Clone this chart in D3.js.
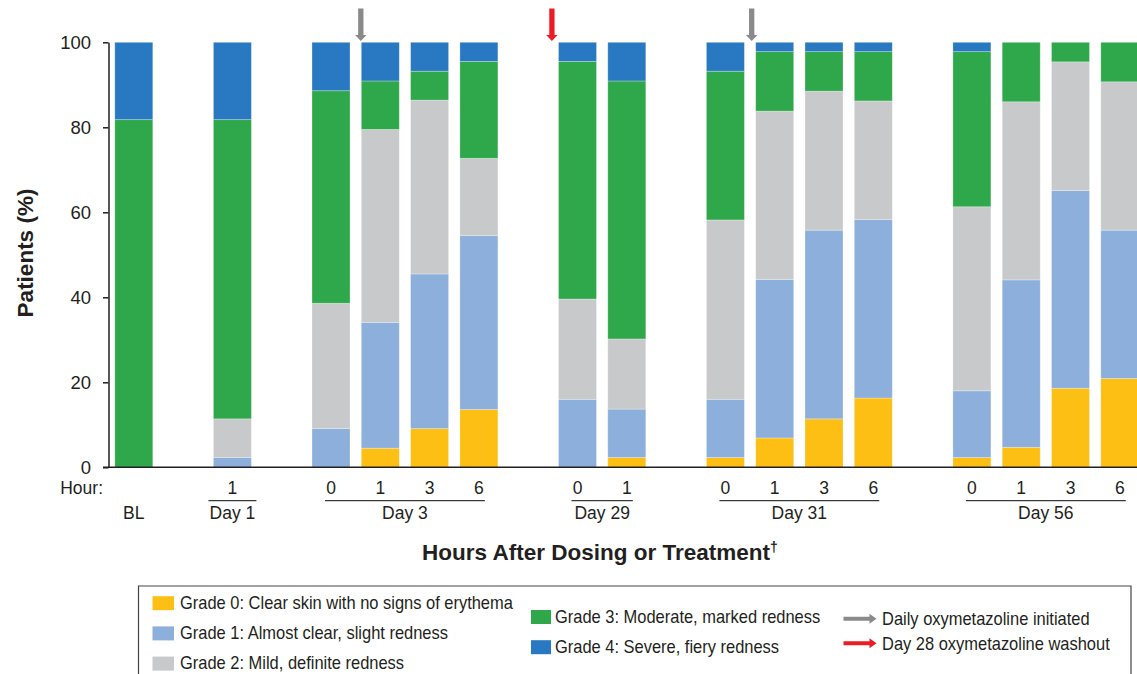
<!DOCTYPE html>
<html>
<head>
<meta charset="utf-8">
<script src="https://cdn.jsdelivr.net/npm/d3@7"></script>
<style>
  html, body { margin: 0; padding: 0; background: #fff; }
  svg { display: block; font-family: "Liberation Sans", Arial, sans-serif; }
</style>
</head>
<body>
<svg id="chart" width="1137" height="674"></svg>
<script>
// Visit days and the hours after dosing recorded on each day
const days = ["BL", "Day 1", "Day 3", "Day 29", "Day 31", "Day 56"];
const hoursByDay = [[""], ["1"], ["0", "1", "3", "6"], ["0", "1"], ["0", "1", "3", "6"], ["0", "1", "3", "6"]];

// Share of patients (%) at each grade, one value per time point (in visit order)
const grade0 = [0, 0, 0, 4.5, 9.1, 13.6, 0, 2.3, 2.3, 6.9, 11.4, 16.3, 2.3, 4.7, 18.6, 20.9];
const grade1 = [0, 2.3, 9.1, 29.6, 36.4, 40.9, 16.0, 11.4, 13.7, 37.3, 44.4, 42.0, 15.7, 39.4, 46.5, 34.9];
const grade2 = [0, 9.1, 29.5, 45.4, 40.9, 18.2, 23.6, 16.5, 42.2, 39.6, 32.7, 27.9, 43.3, 41.9, 30.3, 34.9];
const grade3 = [81.8, 70.4, 50.0, 11.4, 6.8, 22.8, 55.9, 60.7, 35.0, 14.0, 9.3, 11.6, 36.5, 14.0, 4.6, 9.3];
const grade4 = [18.2, 18.2, 11.4, 9.1, 6.8, 4.5, 4.5, 9.1, 6.8, 2.2, 2.2, 2.2, 2.2, 0, 0, 0];

const yTicks = [0, 20, 40, 60, 80, 100];

const gradeLabels = [
  "Grade 0: Clear skin with no signs of erythema",
  "Grade 1: Almost clear, slight redness",
  "Grade 2: Mild, definite redness",
  "Grade 3: Moderate, marked redness",
  "Grade 4: Severe, fiery redness"
];
const gradeColors = ["#FDBF14", "#8DAFDB", "#C8C9CA", "#2EA84A", "#2879C1"];

// Treatment markers drawn above the bars
const markers = [
  { day: 2, hour: 1, label: "Daily oxymetazoline initiated", color: "#8A8A8A", shift: -0.5 },
  { day: 3, hour: 0, label: "Day 28 oxymetazoline washout", color: "#EC1C24", shift: -6.6 },
  { day: 4, hour: 1, label: "Daily oxymetazoline initiated", color: "#8A8A8A", shift: -4 }
];

// ---- build time points and the slot sequence (one empty slot between visit days)
const points = [];
const slots = [];
days.forEach((d, di) => {
  if (di > 0) slots.push("gap" + di);
  hoursByDay[di].forEach((h, hi) => {
    const key = di + "-" + hi;
    points.push({ key, day: di, hourIndex: hi, hour: h });
    slots.push(key);
  });
});
const series = [grade0, grade1, grade2, grade3, grade4];
points.forEach((p, i) => { p.values = series.map(s => s[i]); });

const svg = d3.select("#chart");
const ink = "#231F20";

const x = d3.scaleBand()
  .domain(slots)
  .range([109.15, 109.15 + slots.length * 49.3])
  .paddingInner(11.3 / 49.3)
  .paddingOuter(11.3 / 49.3 / 2);

const y = d3.scaleLinear().domain([0, 100]).range([467.3, 42.3]);

// ---- stacked bars
const stack = d3.stack()
  .keys(d3.range(5))
  .value((d, k) => d.values[k]);
const layers = stack(points);

svg.append("g")
  .selectAll("g")
  .data(layers)
  .join("g")
  .attr("fill", (d, i) => gradeColors[i])
  .selectAll("rect")
  .data(d => d.filter(s => s[1] - s[0] > 0))
  .join("rect")
  .attr("x", d => x(d.data.key))
  .attr("width", x.bandwidth())
  .attr("y", d => y(d[1]))
  .attr("height", d => y(d[0]) - y(d[1]))
  .attr("stroke", "rgba(255,255,255,0.35)")
  .attr("stroke-width", 0.8);

// ---- y axis
const yAxis = svg.append("g")
  .attr("transform", "translate(108.5,0)")
  .call(d3.axisLeft(y).tickValues(yTicks).tickSize(5.5).tickPadding(12).tickSizeOuter(0));
yAxis.select(".domain").attr("stroke", ink).attr("stroke-width", 1.5);
yAxis.selectAll(".tick line").attr("stroke", ink).attr("stroke-width", 1.5);
yAxis.selectAll(".tick text")
  .attr("fill", ink)
  .style("font-size", "18.5px")
  .style("font-family", "'Liberation Sans', Arial, sans-serif");

// baseline along the bars
svg.append("line")
  .attr("x1", 103).attr("x2", x.range()[1])
  .attr("y1", y(0)).attr("y2", y(0))
  .attr("stroke", ink).attr("stroke-width", 1.6);

// ---- x labels: hours, day underlines, day names
const labelFont = "17.5px";
svg.append("text")
  .attr("x", 103).attr("y", 494.3)
  .attr("text-anchor", "end")
  .attr("fill", ink).style("font-size", labelFont)
  .text("Hour:");

svg.append("g")
  .selectAll("text")
  .data(points.filter(p => p.hour !== ""))
  .join("text")
  .attr("x", p => x(p.key) + x.bandwidth() / 2)
  .attr("y", 494.3)
  .attr("text-anchor", "middle")
  .attr("fill", ink).style("font-size", labelFont)
  .text(p => p.hour);

days.forEach((d, di) => {
  const pts = points.filter(p => p.day === di);
  const c0 = x(pts[0].key) + x.bandwidth() / 2;
  const c1 = x(pts[pts.length - 1].key) + x.bandwidth() / 2;
  if (pts[0].hour !== "") {
    const ext = pts.length === 1 ? 24 : 6;
    svg.append("line")
      .attr("x1", c0 - ext).attr("x2", c1 + ext)
      .attr("y1", 500.7).attr("y2", 500.7)
      .attr("stroke", "#3a3a3a").attr("stroke-width", 1.3);
  }
  svg.append("text")
    .attr("x", (c0 + c1) / 2).attr("y", 519.3)
    .attr("text-anchor", "middle")
    .attr("fill", ink).style("font-size", labelFont)
    .text(d);
});

// ---- axis titles
svg.append("text")
  .attr("transform", "translate(32.5,253) rotate(-90)")
  .attr("text-anchor", "middle")
  .attr("fill", ink)
  .style("font-size", "22.5px").style("font-weight", "bold")
  .text("Patients (%)");

const xTitle = svg.append("text")
  .attr("x", 600).attr("y", 560)
  .attr("text-anchor", "middle")
  .attr("fill", ink)
  .style("font-size", "22.5px").style("font-weight", "bold");
xTitle.append("tspan").text("Hours After Dosing or Treatment");
xTitle.append("tspan").attr("dy", -8).style("font-size", "14px").text("\u2020");

// ---- markers above bars
function arrowDown(g, cx, top, tip, color) {
  const shaftW = 5.3, headW = 11.5, headH = 6;
  g.append("path")
    .attr("d", `M${cx - shaftW / 2},${top} L${cx + shaftW / 2},${top} L${cx + shaftW / 2},${tip - headH}
      L${cx + headW / 2},${tip - headH} L${cx},${tip} L${cx - headW / 2},${tip - headH}
      L${cx - shaftW / 2},${tip - headH} Z`)
    .attr("fill", color);
}
const markerLayer = svg.append("g");
markers.forEach(m => {
  const p = points.find(q => q.day === m.day && q.hour === String(m.hour));
  arrowDown(markerLayer, x(p.key) + m.shift, 8.5, 41, m.color);
});

// ---- legend
const legend = svg.append("g");
legend.append("path")
  .attr("d", "M138.5,674 L138.5,586 L1131,586 L1131,674")
  .attr("fill", "none").attr("stroke", "#444").attr("stroke-width", 1.2);

function legendText(xp, yp, str) {
  legend.append("g")
    .attr("transform", `translate(${xp},${yp}) scale(0.89,1)`)
    .append("text")
    .attr("fill", ink)
    .style("font-size", "18.5px")
    .text(str);
}

// grades 0–2 in the first column, 3–4 in the second
const gradeRows = [
  { col: 0, row: 0 }, { col: 0, row: 1 }, { col: 0, row: 2 },
  { col: 1, row: 0 }, { col: 1, row: 1 }
];
const colX = [152.5, 531];
const colBase = [608.7, 622.5];
gradeRows.forEach((r, i) => {
  const base = colBase[r.col] + r.row * 30.2;
  const sw = r.col === 0 ? 21.5 : 20;
  legend.append("rect")
    .attr("x", colX[r.col]).attr("y", base - 12.5)
    .attr("width", sw).attr("height", 14)
    .attr("fill", gradeColors[i]);
  legendText(colX[r.col] + sw + (r.col === 0 ? 6 : 4), base, gradeLabels[i]);
});

// marker keys
const markerKeys = [markers[0], markers[1]];
markerKeys.forEach((m, i) => {
  const cy = 618.7 + i * 24.6;
  const x0 = 843.5, x1 = 876.5;
  legend.append("path")
    .attr("d", `M${x0},${cy - 2} L${x1 - 7},${cy - 2} L${x1 - 7},${cy - 5} L${x1},${cy} L${x1 - 7},${cy + 5}
      L${x1 - 7},${cy + 2} L${x0},${cy + 2} Z`)
    .attr("fill", m.color);
  legendText(882, cy + 6.5, m.label);
});
</script>
</body>
</html>
